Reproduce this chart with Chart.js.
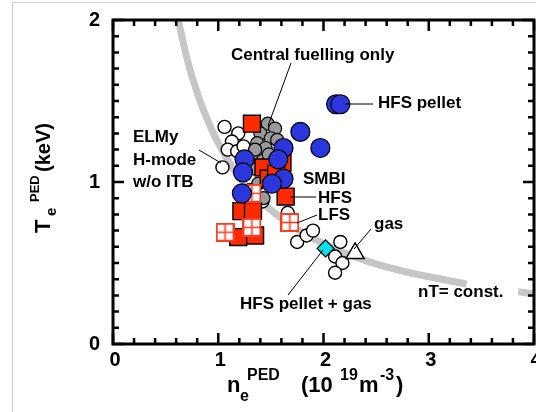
<!DOCTYPE html>
<html>
<head>
<meta charset="utf-8">
<script src="https://cdn.jsdelivr.net/npm/chart.js@4/dist/chart.umd.min.js"></script>
<style>
  html, body { margin: 0; padding: 0; background: #fff; }
  #c { display: block; }
</style>
</head>
<body>
<canvas id="c" width="536" height="412"></canvas>
<script>
// Pedestal electron temperature vs pedestal density, by fuelling scenario.

// ELMy H-mode without ITB (open circles)
const elmyN = [1.06, 1.19, 1.13, 1.09, 1.18, 1.04, 1.24, 1.66, 1.75, 1.84, 1.90, 2.16, 2.11, 2.18, 2.11, 1.42];
const elmyT = [1.34, 1.30, 1.25, 1.20, 1.19, 1.09, 1.22, 0.81, 0.63, 0.67, 0.70, 0.63, 0.54, 0.50, 0.44, 0.88];

// Central fuelling only (grey circles)
const centralN = [1.47, 1.54, 1.40, 1.50, 1.37, 1.45, 1.33, 1.42, 1.36, 1.38, 1.43, 1.30, 1.56, 1.48, 1.35];
const centralT = [1.36, 1.33, 1.30, 1.27, 1.24, 1.21, 1.17, 1.13, 1.08, 0.99, 0.90, 0.95, 1.26, 1.17, 1.20];

// SMBI from the high-field side (filled squares)
const smbiHfsN = [1.32, 1.43, 1.61, 1.48, 1.64, 1.22, 1.33, 1.19, 1.35, 1.55];
const smbiHfsT = [1.36, 1.09, 1.12, 1.02, 0.91, 0.82, 0.82, 0.66, 0.67, 1.05];

// SMBI from the low-field side (hatched squares)
const smbiLfsN = [1.065, 1.32, 1.68, 1.32];
const smbiLfsT = [0.69, 0.72, 0.75, 0.93];

// HFS pellet injection (blue circles)
const pelletN = [2.12, 2.16, 1.78, 1.97, 1.62, 1.57, 1.62, 1.51, 1.25, 1.235, 1.225];
const pelletT = [1.48, 1.48, 1.31, 1.21, 1.21, 1.14, 1.02, 0.99, 1.14, 1.06, 0.93];

// HFS pellet + gas, and gas puff only
const pelletGasN = [2.02];
const pelletGasT = [0.59];
const gasN = [2.30];
const gasT = [0.56];

// nT = const. guide curve (null leaves room for its label)
const constN = [0.60, 0.70, 0.80, 0.90, 1.00, 1.20, 1.40, 1.70, 2.00, 2.40, 2.80, 3.36, 3.60, 3.85, 4.00];
const constT = [2.06, 1.77, 1.55, 1.38, 1.24, 1.03, 0.885, 0.73, 0.62, 0.515, 0.443, 0.37, null, 0.322, 0.31];

// Axis ticks
const xTickValues = [0, 1, 2, 3, 4];
const yTickValues = [0, 1, 2];

const pts = (xs, ys) => xs.map((x, i) => ({ x: x, y: ys[i] }));

const BOLD = '"Liberation Sans", Arial, Helvetica, sans-serif';
const RED = '#ff2a00';
const BLUE = '#2b36dd';

// hatched square marker (white, red outline, 2x2 grid)
function gridSquare() {
  const s = 19;
  const cv = document.createElement('canvas');
  cv.width = s; cv.height = s;
  const g = cv.getContext('2d');
  g.fillStyle = '#fff';
  g.fillRect(0, 0, s, s);
  g.strokeStyle = '#ff3a20';
  g.lineWidth = 2;
  g.strokeRect(1, 1, s - 2, s - 2);
  g.lineWidth = 1.6;
  g.beginPath();
  g.moveTo(s / 2, 1); g.lineTo(s / 2, s - 1);
  g.moveTo(1, s / 2); g.lineTo(s - 1, s / 2);
  g.stroke();
  return cv;
}

const framePlugin = {
  id: 'frame',
  beforeDraw(chart) {
    const ctx = chart.ctx;
    ctx.save();
    ctx.fillStyle = '#fff';
    ctx.fillRect(0, 0, chart.width, chart.height);
    ctx.strokeStyle = '#cfcfcf';
    ctx.lineWidth = 1;
    ctx.strokeRect(12.5, 2.5, 700, 700);
    ctx.restore();
  },
  afterDatasetsDraw(chart) {
    const ctx = chart.ctx;
    const a = chart.chartArea;
    const xs = chart.scales.x, ys = chart.scales.y;
    ctx.save();
    ctx.strokeStyle = '#000';
    ctx.lineCap = 'butt';
    // inward ticks on all four sides
    ctx.lineWidth = 2.5;
    ctx.beginPath();
    for (let k = 0; k <= 20; k++) {
      const v = k * 0.2;
      const px = xs.getPixelForValue(v);
      const len = (k % 5 === 0) ? 11 : 6;
      ctx.moveTo(px, a.bottom); ctx.lineTo(px, a.bottom - len);
      ctx.moveTo(px, a.top); ctx.lineTo(px, a.top + len);
    }
    for (let k = 0; k <= 20; k++) {
      const v = k * 0.1;
      const py = ys.getPixelForValue(v);
      const len = (k % 10 === 0) ? 11 : 6;
      ctx.moveTo(a.left, py); ctx.lineTo(a.left + len, py);
      ctx.moveTo(a.right, py); ctx.lineTo(a.right - len, py);
    }
    ctx.stroke();
    ctx.lineWidth = 3;
    ctx.strokeRect(a.left, a.top, a.right - a.left, a.bottom - a.top);

    // x tick labels
    ctx.fillStyle = '#000';
    ctx.font = 'bold 20px ' + BOLD;
    ctx.textAlign = 'center';
    ctx.textBaseline = 'top';
    xTickValues.forEach(v => ctx.fillText(String(v), xs.getPixelForValue(v) + 2, a.bottom + 6));

    // annotations
    ctx.font = 'bold 17px ' + BOLD;
    ctx.textBaseline = 'alphabetic';
    ctx.textAlign = 'left';
    ctx.fillText('Central fuelling only', 231, 60);
    ctx.fillText('HFS pellet', 378, 108);
    ctx.fillText('ELMy', 133, 142);
    ctx.fillText('H-mode', 133, 165);
    ctx.fillText('w/o ITB', 133, 187);
    ctx.fillText('SMBI', 303, 184);
    ctx.fillText('HFS', 318, 203);
    ctx.fillText('LFS', 318, 220);
    ctx.fillText('gas', 374, 229);
    ctx.fillText('HFS pellet + gas', 240, 309);
    ctx.fillText('nT= const.', 418, 297);

    ctx.lineWidth = 1;
    ctx.beginPath();
    const seg = (x1, y1, x2, y2) => { ctx.moveTo(x1, y1); ctx.lineTo(x2, y2); };
    seg(291, 63, 268, 126);
    seg(345, 104, 373, 104);
    seg(199, 150, 221, 163);
    seg(290, 197, 316, 197);
    seg(297, 223, 317, 215);
    seg(354, 249, 371, 229);
    seg(323, 250, 288, 295);
    ctx.stroke();

    // axis titles
    const big = 'bold 22px ' + BOLD;
    const sup = 'bold 16px ' + BOLD;
    // x title: n_e^PED (10^19 m^-3)
    const base = 392;
    ctx.font = big; ctx.fillText('n', 227, base);
    ctx.font = sup; ctx.fillText('e', 240, base + 9);
    ctx.fillText('PED', 247, base - 12);
    ctx.font = big; ctx.fillText('(10', 301, base);
    ctx.font = sup; ctx.fillText('19', 340, base - 12);
    ctx.font = big; ctx.fillText('m', 359, base);
    ctx.font = sup; ctx.fillText('-3', 380, base - 12);
    ctx.font = big; ctx.fillText(')', 396, base);

    // y title: T_e^PED (keV), rotated
    ctx.translate(50, 233);
    ctx.rotate(-Math.PI / 2);
    ctx.font = 'bold 22px ' + BOLD; ctx.fillText('T', 0, 0);
    ctx.font = 'bold 15px ' + BOLD; ctx.fillText('e', 17, 6);
    ctx.font = 'bold 13px ' + BOLD; ctx.fillText('PED', 31, -11);
    ctx.font = 'bold 20px ' + BOLD; ctx.fillText('(keV)', 61, 0);
    ctx.restore();
  }
};

const chart = new Chart(document.getElementById('c'), {
  type: 'scatter',
  data: {
    datasets: [
      {
        label: 'nT = const.',
        data: pts(constN, constT),
        showLine: true,
        borderColor: '#c6c6c6',
        borderWidth: 7,
        pointRadius: 0,
        cubicInterpolationMode: 'monotone',
        spanGaps: false,
        clip: 0,
        order: 9
      },
      {
        label: 'ELMy H-mode w/o ITB',
        data: pts(elmyN, elmyT),
        pointStyle: 'circle',
        pointRadius: 6.5,
        backgroundColor: '#fff',
        borderColor: '#000',
        borderWidth: 1.4,
        order: 8
      },
      {
        label: 'Central fuelling only',
        data: pts(centralN, centralT),
        pointStyle: 'circle',
        pointRadius: 6.5,
        backgroundColor: '#9a9a9a',
        borderColor: '#000',
        borderWidth: 1.2,
        order: 7
      },
      {
        label: 'SMBI HFS',
        data: pts(smbiHfsN, smbiHfsT),
        pointStyle: 'rect',
        pointRadius: 12,
        backgroundColor: RED,
        borderColor: '#000',
        borderWidth: 1.4,
        order: 6
      },
      {
        label: 'SMBI LFS',
        data: pts(smbiLfsN, smbiLfsT),
        pointStyle: gridSquare(),
        pointRadius: 9,
        order: 5
      },
      {
        label: 'HFS pellet',
        data: pts(pelletN, pelletT),
        pointStyle: 'circle',
        pointRadius: 9.5,
        backgroundColor: BLUE,
        borderColor: '#000',
        borderWidth: 1.2,
        order: 4
      },
      {
        label: 'gas',
        data: pts(gasN, gasT),
        pointStyle: 'triangle',
        pointRadius: 10.5,
        backgroundColor: '#fff',
        borderColor: '#000',
        borderWidth: 1.4,
        order: 3
      },
      {
        label: 'HFS pellet + gas',
        data: pts(pelletGasN, pelletGasT),
        pointStyle: 'rectRot',
        pointRadius: 8.5,
        backgroundColor: '#00e1ea',
        borderColor: '#000',
        borderWidth: 1.2,
        order: 2
      }
    ]
  },
  options: {
    responsive: false,
    animation: false,
    devicePixelRatio: 1,
    layout: { autoPadding: false, padding: { left: 0, right: 2, top: 20, bottom: 0 } },
    plugins: { legend: { display: false }, tooltip: { enabled: false } },
    scales: {
      x: {
        type: 'linear',
        min: 0, max: 4,
        grid: { display: false, drawTicks: false },
        border: { display: false },
        ticks: { display: false },
        afterFit: (s) => { s.height = 68; s.paddingLeft = 0; s.paddingRight = 0; }
      },
      y: {
        type: 'linear',
        min: 0, max: 2,
        grid: { display: false, drawTicks: false },
        border: { display: false },
        afterBuildTicks: (s) => { s.ticks = yTickValues.map(v => ({ value: v })); },
        ticks: {
          padding: 13,
          color: '#000',
          font: { family: BOLD, size: 20, weight: 'bold' },
          callback: (v) => String(v)
        },
        afterFit: (s) => { s.width = 113; s.paddingTop = 0; s.paddingBottom = 0; }
      }
    }
  },
  plugins: [framePlugin]
});
</script>
</body>
</html>
